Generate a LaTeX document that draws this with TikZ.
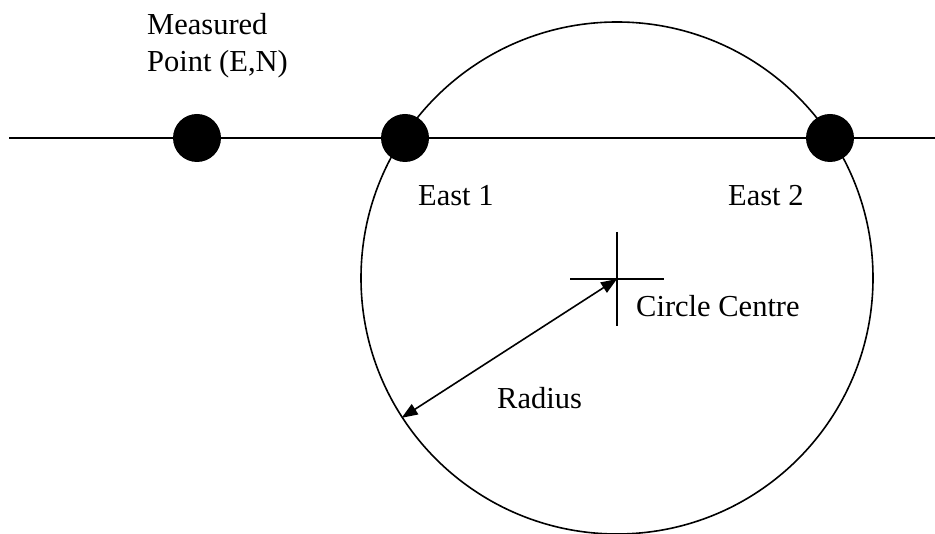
\documentclass[tikz,border=0pt]{standalone}
\usepackage{fontspec}
\setmainfont{Liberation Serif}
\usetikzlibrary{arrows.meta}
\begin{document}
\begin{tikzpicture}[x=1pt,y=-1pt,
  line/.style={line width=1.6pt},
  dot/.style={circle,fill=black,minimum size=48pt,inner sep=0pt},
  lbl/.style={anchor=base west,inner sep=0pt,font=\fontsize{30.5}{37}\selectfont},
  dimarrow/.style={line width=1.6pt,{Triangle[length=16pt,width=12pt]}-{Triangle[length=16pt,width=12pt]}},
]
\useasboundingbox (0,0) rectangle (935,534);
% base line
\coordinate (L) at (9,138);
\coordinate (R) at (935,138);
\draw[line] (L) -- (R);
% circle
\node[circle,draw,line width=1.6pt,minimum size=512pt,inner sep=0pt] (circ) at (617,278) {};
% dots
\node[dot] (meas) at (197,138) {};
\node[dot] (e1) at (405,138) {};
\node[dot] (e2) at (830,138) {};
% centre cross
\coordinate (c) at (617,279);
\coordinate (cl) at (570,279);
\coordinate (cr) at (664,279);
\coordinate (ct) at (617,232);
\coordinate (cb) at (617,326);
\draw[line] (cl) -- (cr);
\draw[line] (ct) -- (cb);
% radius arrow
\draw[dimarrow] (c) -- (circ.213.5);
% labels
\node[lbl] (t1) at (147,35) {Measured};
\node[lbl] (t2) at (147,72) {Point (E,N)};
\node[lbl] (te1) at (418,206) {East 1};
\node[lbl] (te2) at (728,206) {East 2};
\node[lbl] (tc) at (636,317) {Circle Centre};
\node[lbl] (tr) at (497,409) {Radius};
\end{tikzpicture}
\end{document}
